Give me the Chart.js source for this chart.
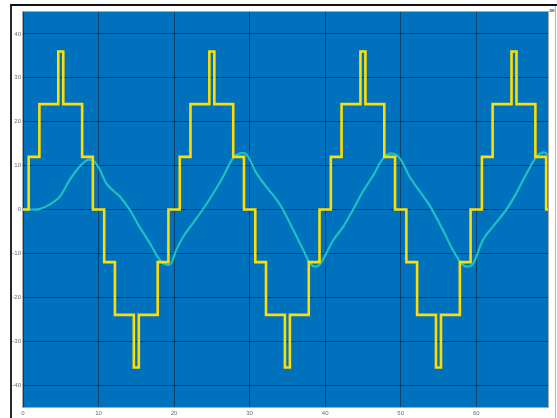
<!DOCTYPE html>
<html>
<head>
<meta charset="utf-8">
<script src="https://cdn.jsdelivr.net/npm/chart.js@4/dist/chart.umd.min.js"></script>
<style>
  html, body { margin: 0; padding: 0; background: #ffffff; }
  #wrap { width: 557px; height: 418px; position: relative; }
  canvas { display: block; }
</style>
</head>
<body>
<div id="wrap"><canvas id="c" width="557" height="418"></canvas></div>
<script>
// ---- Data ----
const xTicks = [0, 10, 20, 30, 40, 50, 60];
const yTicks = [-40, -30, -20, -10, 0, 10, 20, 30, 40];

// Staircase (yellow): time at which each level begins, and the level
const stepTimes = [
  0, 0.75, 2.17, 4.67, 5.33, 7.83, 9.25, 10.75, 12.17, 14.67, 15.33, 17.83, 19.25,
  20.75, 22.17, 24.67, 25.33, 27.83, 29.25, 30.75, 32.17, 34.67, 35.33, 37.83, 39.25,
  40.75, 42.17, 44.67, 45.33, 47.83, 49.25, 50.75, 52.17, 54.67, 55.33, 57.83, 59.25,
  60.75, 62.17, 64.67, 65.33, 67.83, 69.25, 69.5
];
const stepLevels = [
  0, 12, 24, 36, 24, 12, 0, -12, -24, -36, -24, -12, 0,
  12, 24, 36, 24, 12, 0, -12, -24, -36, -24, -12, 0,
  12, 24, 36, 24, 12, 0, -12, -24, -36, -24, -12, 0,
  12, 24, 36, 24, 12, 0, 0
];

// Smooth wave (cyan)
const waveTimes = [
  0, 1.0, 2.2, 3.5, 4.9, 6.2, 7.5, 8.4, 9.0, 9.6, 10.2, 11.0, 12.0, 12.8, 14.1, 15.4, 16.8, 18.1, 19.0, 19.6,
  20.3, 21.2, 22.5, 23.8, 25.2, 26.5, 27.8, 28.7, 29.6, 30.9, 32.2, 33.6, 34.4, 35.8, 37.1, 38.0, 38.6, 39.3,
  40.6, 41.1, 42.4, 43.7, 45.0, 46.4, 47.7, 48.8, 49.9, 51.2, 52.5, 53.8, 55.6, 56.9, 58.2, 58.9, 59.6,
  60.9, 62.2, 64.0, 65.3, 66.7, 68.0, 68.9, 69.5
];
const waveValues = [
  0, 0, 0.1, 1.1, 3.0, 6.8, 9.8, 11.2, 11.3, 10.6, 9.0, 6.0, 4.2, 3.0, 0, -3.9, -7.7, -11.5, -12.6, -12.3,
  -9.2, -6.2, -3.1, 0, 3.7, 7.5, 11.7, 12.8, 12.5, 8.3, 5.2, 2.2, 0, -4.7, -9.2, -12.3, -13.0, -12.5,
  -8.5, -6.9, -3.9, 0, 4.1, 7.9, 11.7, 12.8, 11.6, 7.4, 4.2, 1.0, -4.7, -9.2, -12.6, -13.0, -12.3,
  -6.9, -3.9, 0, 3.7, 8.3, 12.1, 13.0, 12.5
];

const X_MIN = 0, X_MAX = 69.5, Y_MIN = -45, Y_MAX = 45;

// ---- Plugins ----
const plotBg = {
  id: 'plotBg',
  beforeDraw(chart) {
    const { ctx, chartArea: a } = chart;
    ctx.save();
    ctx.fillStyle = '#0072BD';
    ctx.fillRect(a.left, a.top, a.right - a.left, a.bottom - a.top);
    ctx.restore();
  },
  afterDraw(chart) {
    const { ctx, chartArea: a } = chart;
    ctx.save();
    // plot border
    ctx.strokeStyle = '#a8a8a8';
    ctx.lineWidth = 1;
    ctx.strokeRect(a.left - 0.5, a.top - 0.5, a.right - a.left + 1, a.bottom - a.top + 1);
    // figure frame
    ctx.strokeStyle = '#111111';
    ctx.lineWidth = 1.8;
    ctx.beginPath();
    ctx.moveTo(11, 418);
    ctx.lineTo(11, 5);
    ctx.lineTo(557, 5);
    ctx.stroke();
    // right-side strip
    ctx.strokeStyle = '#b8b8b8';
    ctx.lineWidth = 1;
    ctx.beginPath();
    ctx.moveTo(555.5, 6);
    ctx.lineTo(555.5, 418);
    ctx.stroke();
    ctx.fillStyle = '#9a9a9a';
    ctx.fillRect(549.5, 9, 5, 3);
    ctx.restore();
  }
};

const ctx = document.getElementById('c').getContext('2d');
new Chart(ctx, {
  type: 'line',
  data: {
    datasets: [
      {
        label: 'staircase',
        data: stepTimes.map((t, i) => ({ x: t, y: stepLevels[i] })),
        stepped: true,
        borderColor: '#FFDD00',
        borderWidth: 2.6,
        pointRadius: 0,
        fill: false
      },
      {
        label: 'wave',
        data: waveTimes.map((t, i) => ({ x: t, y: waveValues[i] })),
        borderColor: '#1EC0C0',
        borderWidth: 2.2,
        pointRadius: 0,
        tension: 0.35,
        fill: false
      }
    ]
  },
  options: {
    responsive: false,
    devicePixelRatio: 1,
    animation: false,
    layout: { padding: { left: 0, right: 9, top: 12, bottom: 0 } },
    plugins: { legend: { display: false }, tooltip: { enabled: false } },
    scales: {
      x: {
        type: 'linear',
        min: X_MIN,
        max: X_MAX,
        afterBuildTicks(scale) { scale.ticks = xTicks.map(v => ({ value: v })); },
        afterFit(scale) { scale.height = 11; },
        grid: { color: 'rgba(0,0,0,0.42)', lineWidth: 1, drawTicks: false },
        border: { display: false },
        ticks: {
          autoSkip: false,
          maxRotation: 0,
          padding: 3,
          color: '#6a6a6a',
          font: { family: 'Liberation Sans, Arial, sans-serif', size: 6 }
        }
      },
      y: {
        type: 'linear',
        min: Y_MIN,
        max: Y_MAX,
        afterBuildTicks(scale) { scale.ticks = yTicks.map(v => ({ value: v })); },
        afterFit(scale) { scale.width = 23; },
        grid: { color: 'rgba(0,0,0,0.42)', lineWidth: 1, drawTicks: false },
        border: { display: false },
        ticks: {
          autoSkip: false,
          padding: 2,
          color: '#6a6a6a',
          font: { family: 'Liberation Sans, Arial, sans-serif', size: 6 }
        }
      }
    }
  },
  plugins: [plotBg]
});
</script>
</body>
</html>
